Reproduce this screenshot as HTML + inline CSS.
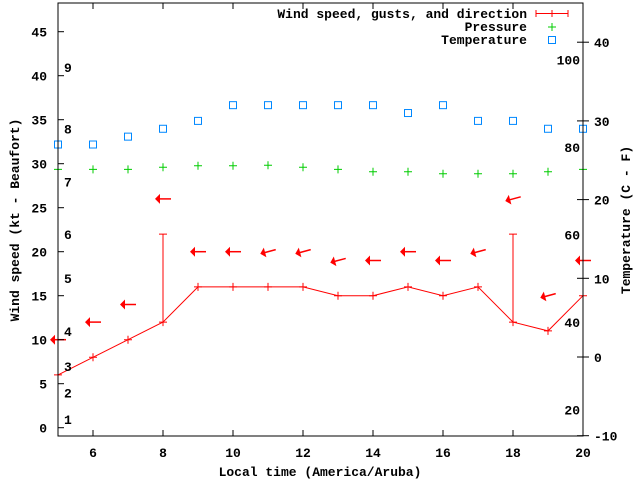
<!DOCTYPE html>
<html><head><meta charset="utf-8"><style>
body{margin:0;background:#fff;}
svg{display:block;font-family:"Liberation Mono","DejaVu Sans Mono",monospace;font-size:13px;font-weight:bold;}
</style></head><body>
<svg id="chart" width="640" height="480">
<rect x="0" y="0" width="640" height="480" fill="#fff"/>
<g id="g-grid"></g>
<g id="g-data"></g>
<g id="g-axes"></g>
</svg>
<script>
const hours=[5,6,7,8,9,10,11,12,13,14,15,16,17,18,19,20];
const windSpeed=[6,8,10,12,16,16,16,16,15,15,16,15,16,12,11,15];
const gustHours=[8,18];
const gustValues=[22,22];
const gustBase=[12,12];
const arrowLevel=[10,12,14,26,20,20,20,20,19,19,20,19,20,26,15,19];
const arrowTilt=[0,0,0,0,0,0,15,15,15,0,0,0,15,15,15,0];
const pressure=[29.36,29.36,29.36,29.59,29.77,29.77,29.82,29.59,29.36,29.09,29.09,28.86,28.86,28.86,29.09,29.36];
const tempC=[27,27,28,29,30,32,32,32,32,32,31,32,30,30,29,29];
const xTicks=[6,8,10,12,14,16,18,20];
const yTicks=[0,5,10,15,20,25,30,35,40,45];
const cTicks=[-10,0,10,20,30,40];
const fTicks=[20,40,60,80,100];
const beaufortLabels=[1,2,3,4,5,6,7,8,9];
const beaufortY=[1.0,4.0,7.0,11.0,17.0,22.0,28.0,34.0,41.0];

const L=58,R=583,T=3,B=436;
const X=h=>L+(h-5)*(R-L)/15;
const Y=v=>427.7-v*8.8;
const YC=c=>357-c*7.87;
const YF=f=>YC((f-32)*5/9);
const NS='http://www.w3.org/2000/svg';
function mk(tag,attrs,parent,txt){const e=document.createElementNS(NS,tag);for(const k in attrs)e.setAttribute(k,attrs[k]);if(txt!==undefined)e.textContent=txt;parent.appendChild(e);return e;}
const gA=document.getElementById('g-axes'),gD=document.getElementById('g-data');

let fr=mk('rect',{x:L,y:T,width:R-L,height:B-T,fill:'none',stroke:'#000','stroke-width':1},gA);


xTicks.forEach(t=>{
  let l=mk('line',{x1:X(t),x2:X(t),y1:B,y2:B-6,stroke:'#000'},gA);
  
  
  let l2=mk('line',{x1:X(t),x2:X(t),y1:T,y2:T+6,stroke:'#000'},gA);
  
  
  let tx=mk('text',{x:X(t),y:B+21,'text-anchor':'middle'},gA,t);
  
  
});
yTicks.forEach(t=>{
  let l=mk('line',{x1:L,x2:L+6,y1:Y(t),y2:Y(t),stroke:'#000'},gA);
  
  
  let tx=mk('text',{x:L-11,y:Y(t)+5,'text-anchor':'end'},gA,t);
  
  
});
cTicks.forEach(t=>{
  let l=mk('line',{x1:R-6,x2:R+6,y1:YC(t),y2:YC(t),stroke:'#000'},gA);
  
  
  let tx=mk('text',{x:R+11,y:YC(t)+5,'text-anchor':'start'},gA,t);
  
  
});
fTicks.forEach(t=>{
  let tx=mk('text',{x:580,y:YF(t)+5,'text-anchor':'end'},gA,t);
  
  
});
beaufortLabels.forEach((b,i)=>{
  let tx=mk('text',{x:64,y:Y(beaufortY[i])+5},gA,b);
  
  
});
let xt=mk('text',{x:320,y:476,'text-anchor':'middle'},gA,'Local time (America/Aruba)');


let yt=mk('text',{x:0,y:0,'text-anchor':'middle',transform:'translate(19,220) rotate(-90)'},gA,'Wind speed (kt - Beaufort)');


let y2=mk('text',{x:0,y:0,'text-anchor':'middle',transform:'translate(630,220) rotate(-90)'},gA,'Temperature (C - F)');



let pts=hours.map((h,i)=>X(h)+','+Y(windSpeed[i])).join(' ');
let pl=mk('polyline',{points:pts,fill:'none',stroke:'#f00','stroke-width':1},gD);


hours.forEach((h,i)=>{
  let p=mk('path',{d:`M${X(h)-4},${Y(windSpeed[i])}h8M${X(h)},${Y(windSpeed[i])-4}v8`,stroke:'#f00'},gD);
  
  
});
gustHours.forEach((h,i)=>{
  let p=mk('path',{d:`M${X(h)},${Y(gustBase[i])}V${Y(gustValues[i])}M${X(h)-4},${Y(gustValues[i])}h8`,stroke:'#f00'},gD);
  
  
});
hours.forEach((h,i)=>{
  const g=mk('g',{transform:`translate(${X(h)},${Y(arrowLevel[i])}) rotate(${-arrowTilt[i]})`},gD);
  
  
  mk('line',{x1:-4,y1:0,x2:8,y2:0,stroke:'#f00','stroke-width':1.5},g);
  mk('polygon',{points:'-8,0 -3,-5 -3,5',fill:'#f00'},g);
});
hours.forEach((h,i)=>{
  let p=mk('path',{d:`M${X(h)-4},${Y(pressure[i])}h8M${X(h)},${Y(pressure[i])-4}v8`,stroke:'#0c0'},gD);
  
  
});
hours.forEach((h,i)=>{
  let r=mk('rect',{x:X(h)-3.5,y:YC(tempC[i])-3.5,width:7,height:7,fill:'none',stroke:'#08f','stroke-width':1},gD);
  
  
});
const lg=mk('g',{},gA);


[['Wind speed, gusts, and direction',18],['Pressure',31],['Temperature',44]].forEach(([t,y])=>{
  let tx=mk('text',{x:527,y:y,'text-anchor':'end'},lg,t);
  
  
});
mk('path',{d:'M536,13.5h32M536,10v7M568,10v7M552,10v7',stroke:'#f00'},lg);
mk('path',{d:'M548,27h8M552,23v8',stroke:'#0c0'},lg);
mk('rect',{x:548.5,y:36.5,width:7,height:7,fill:'none',stroke:'#08f'},lg);
</script>
</body></html>
